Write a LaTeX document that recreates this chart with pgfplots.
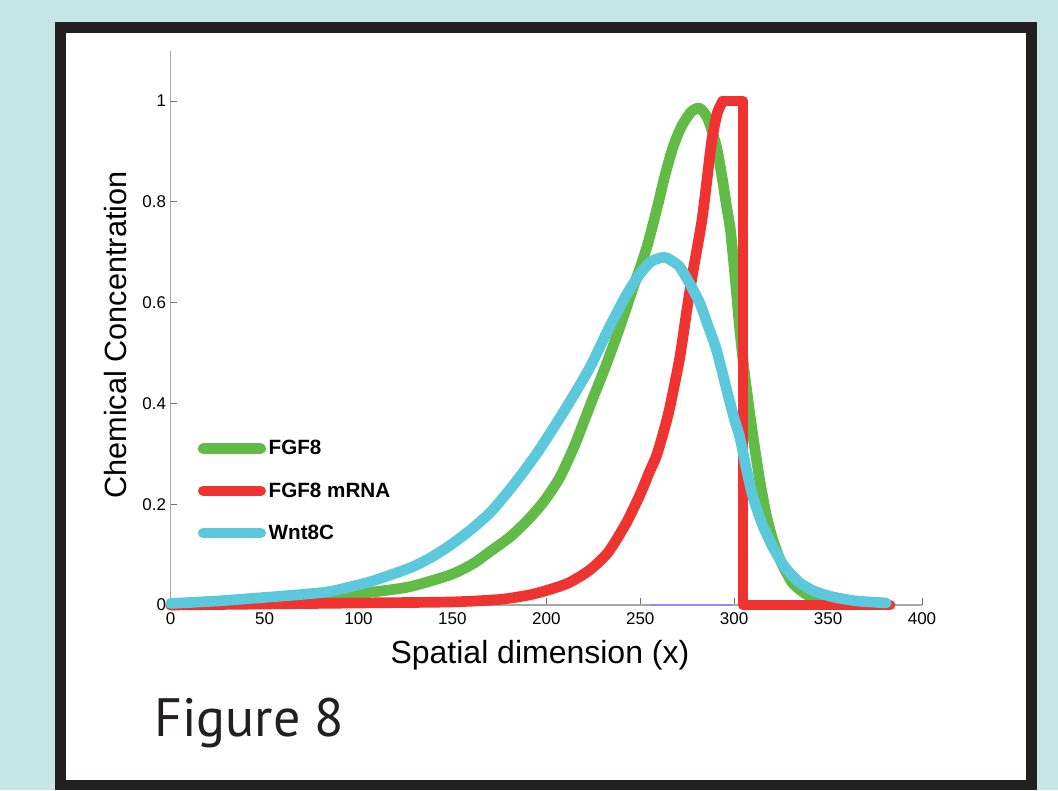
\documentclass[border=0pt]{standalone}
\usepackage{fontspec}
\setmainfont{Liberation Sans}
\newfontfamily\figfont{PT Sans}
\usepackage{pgfplots}
\pgfplotsset{compat=1.18}

\definecolor{bgcyan}{HTML}{C6E6E6}
\definecolor{framec}{HTML}{231F20}
\definecolor{fgf}{HTML}{62BB46}
\definecolor{mrna}{HTML}{EF3330}
\definecolor{wnt}{HTML}{5BC8DC}
\definecolor{axgray}{HTML}{A8A8A8}
\definecolor{tickgray}{HTML}{707070}

\begin{document}
\begin{tikzpicture}
% background and frame, in pixel units
\begin{scope}[x=0.75pt,y=0.75pt]
\useasboundingbox (0,0) rectangle (1058,790);
\fill[bgcyan] (0,0) rectangle (1058,790);
\fill[framec] (55,0) rectangle (1036.5,768);
\fill[white] (66,10) rectangle (1026,757);
\node[anchor=base west, inner sep=0pt, text=framec,
      font=\figfont\fontsize{40.5}{46}\selectfont] at (154,53) {Figure 8};
\end{scope}

\begin{axis}[
    at={(128.0pt,138.75pt)}, anchor=south west,
    scale only axis,
    width=563.5pt, height=415.8pt,
    xmin=0, xmax=400,
    ymin=0, ymax=1.1,
    axis x line*=bottom,
    axis y line*=left,
    axis line style={axgray, line width=1.1pt},
    tick align=inside,
    major tick length=5pt,
    tick style={tickgray, line width=0.6pt},
    xtick={0,50,100,150,200,250,300,350,400},
    ytick={0,0.2,0.4,0.6,0.8,1},
    yticklabels={0,0.2,0.4,0.6,0.8,1},
    /pgf/number format/assume math mode=true,
    ticklabel style={font=\fontsize{12.75}{14}\selectfont},
    xticklabel style={yshift=-2.5pt},
    xlabel={Spatial dimension (x)},
    ylabel={Chemical Concentration},
    xlabel style={font=\fontsize{24}{28}\selectfont, anchor=center,
                  at={(axis description cs:0.4915,-0.090)}},
    ylabel style={font=\fontsize{23}{27}\selectfont, anchor=center, rotate=0,
                  at={(axis description cs:-0.074,0.487)}},
    every axis plot/.append style={line width=8pt, line cap=round, line join=round},
    legend image code/.code={\draw[#1] (0pt,0pt) -- (43pt,0pt);},
    legend style={at={(axis description cs:0.036,0.302)}, anchor=north west,
                  draw=none, fill=none, inner sep=0pt,
                  font=\bfseries\fontsize{15.5}{18}\selectfont,
                  row sep=15.3pt},
    legend cell align=left,
    clip=false
]
% FGF8
\addplot[fgf, smooth, tension=0.4] coordinates {
(0,0.000) (30,0.003) (50,0.007) (70,0.011) (85,0.016) (106,0.025)
(127,0.036) (149,0.060) (161,0.082) (170,0.106) (181,0.136) (191,0.172)
(199,0.207) (207,0.252) (215,0.316) (223,0.393) (232,0.478) (239,0.550)
(246,0.627) (253.5,0.710) (259,0.788) (263,0.850) (267.5,0.909) (272,0.950)
(277,0.978) (281.5,0.986) (286,0.965) (290.6,0.909) (293.5,0.850) (296,0.790)
(298,0.744) (300.5,0.650) (303,0.546) (305.5,0.460) (308.3,0.380) (311,0.310)
(313.6,0.248) (317,0.180) (320.6,0.129) (325,0.085) (331,0.044) (338,0.022)
(345.6,0.010) (355,0.004) (365,0.002) (380,0.001)
};
\addlegendentry{FGF8}
% FGF8 mRNA, rising part
\addplot[mrna, smooth, tension=0.4] coordinates {
(0,0) (50,0.002) (100,0.004) (149,0.006) (175,0.011) (191,0.020)
(202,0.031) (212,0.044) (223,0.069) (233,0.105) (242.6,0.163) (250,0.220)
(255,0.265) (259,0.300) (265,0.380) (271,0.490) (275,0.590) (278,0.660)
(282.7,0.760) (285.5,0.843) (288,0.920) (291,0.976) (294,1.000)
};
\addlegendentry{FGF8 mRNA}
% FGF8 mRNA, plateau and drop
\addplot[mrna, forget plot] coordinates {
(294,1.000) (304.7,1.000) (304.7,0) (383,0)
};
% Wnt8C
\addplot[wnt, smooth, tension=0.4] coordinates {
(0,0.003) (25,0.008) (50,0.015) (70,0.021) (85,0.027) (106,0.046)
(127,0.073) (138,0.093) (149,0.119) (160,0.150) (170,0.183) (179,0.222)
(188,0.265) (196.6,0.310) (210,0.388) (223,0.470) (233,0.547) (242.6,0.615)
(250,0.658) (256,0.682) (262.5,0.690) (266,0.685) (271,0.671) (276,0.640)
(281.7,0.599) (286,0.555) (290.6,0.506) (296,0.427) (300,0.370) (303,0.333)
(306.5,0.270) (310,0.214) (315,0.160) (320.6,0.115) (327,0.075) (335,0.044)
(343,0.027) (352.6,0.016) (365,0.008) (381,0.004)
};
\addlegendentry{Wnt8C}
% thin stray segment along the x axis
\addplot[color=blue!45!white, line width=0.8pt, line cap=butt, forget plot]
coordinates {(255,0) (299,0)};
\end{axis}
\end{tikzpicture}
\end{document}
